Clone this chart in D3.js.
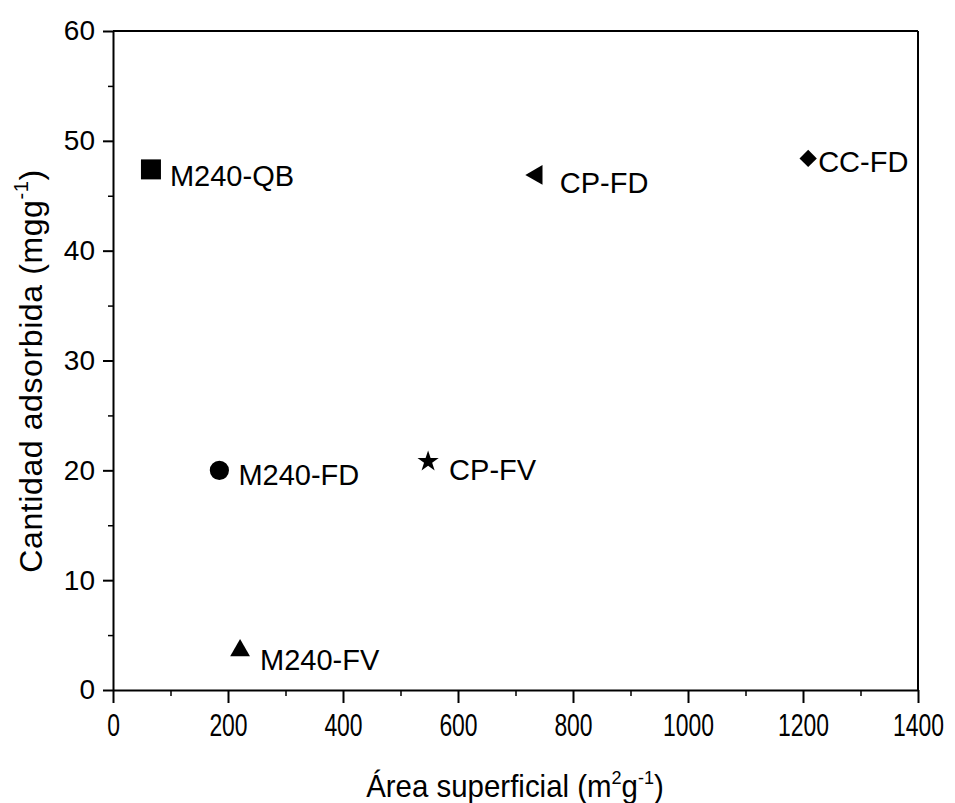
<!DOCTYPE html>
<html>
<head>
<meta charset="utf-8">
<script src="https://cdn.jsdelivr.net/npm/d3@7"></script>
<style>
  body { margin: 0; background: #fff; }
  svg { font-family: Arial, "Liberation Sans", sans-serif; }
</style>
</head>
<body>
<div id="chart"></div>
<script>
// data
const samples  = ["M240-QB", "M240-FD", "M240-FV", "CP-FV", "CP-FD", "CC-FD"];
const area     = [66, 185, 221, 548, 737, 1209];      // m2 g-1
const adsorbed = [47.4, 20.0, 3.6, 20.8, 46.9, 48.4]; // mg g-1
const markers  = ["square", "circle", "triangle", "star", "triangleLeft", "diamond"];

const xTicks = [0, 200, 400, 600, 800, 1000, 1200, 1400];
const yTicks = [0, 10, 20, 30, 40, 50, 60];

// label placement relative to each marker
const labelDx = [19, 19, 20, 21, 23, 10];
const labelDy = [17, 15, 20, 18, 18, 14];

const width = 955, height = 803;
const margin = {top: 31, right: 37, bottom: 113, left: 113};

const svg = d3.select("#chart")
              .append("svg")
              .attr("width", width)
              .attr("height", height);

const x = d3.scaleLinear()
            .domain([0, 1400])
            .range([margin.left, width - margin.right]);

const y = d3.scaleLinear()
            .domain([0, 60])
            .range([height - margin.bottom, margin.top]);

// minor ticks
svg.append("g")
   .attr("transform", `translate(0,${y(0)})`)
   .call(d3.axisBottom(x).tickValues(d3.range(100, 1400, 200)).tickSize(6).tickFormat(""))
   .call(g => g.select(".domain").remove())
   .selectAll("line").attr("stroke-width", 1.5);

svg.append("g")
   .attr("transform", `translate(${x(0)},0)`)
   .call(d3.axisLeft(y).tickValues(d3.range(5, 60, 10)).tickSize(5).tickFormat(""))
   .call(g => g.select(".domain").remove())
   .selectAll("line").attr("stroke-width", 1.5);

// major axes
const xAxis = svg.append("g")
   .attr("transform", `translate(0,${y(0)})`)
   .call(d3.axisBottom(x).tickValues(xTicks).tickFormat(d3.format("d"))
           .tickSize(13).tickSizeOuter(0).tickPadding(11));
xAxis.select(".domain").attr("stroke-width", 2);
xAxis.selectAll("line").attr("stroke-width", 2);
xAxis.selectAll("text")
     .attr("font-size", 31)
     .attr("font-family", "Arial, 'Liberation Sans', sans-serif")
     .attr("transform", "scale(0.74,1)");

const yAxis = svg.append("g")
   .attr("transform", `translate(${x(0)},0)`)
   .call(d3.axisLeft(y).tickValues(yTicks).tickFormat(d3.format("d"))
           .tickSize(10).tickSizeOuter(0).tickPadding(8));
yAxis.select(".domain").attr("stroke-width", 2);
yAxis.selectAll("line").attr("stroke-width", 2);
yAxis.selectAll("text")
     .attr("font-size", 28)
     .attr("font-family", "Arial, 'Liberation Sans', sans-serif");

// frame top / right
svg.append("line")
   .attr("x1", x(0)).attr("x2", x(1400))
   .attr("y1", y(60)).attr("y2", y(60))
   .attr("stroke", "#000").attr("stroke-width", 2);
svg.append("line")
   .attr("x1", x(1400)).attr("x2", x(1400))
   .attr("y1", y(60)).attr("y2", y(0))
   .attr("stroke", "#000").attr("stroke-width", 2);

// markers
const symbolFor = {
    square:       {type: d3.symbolSquare,   size: 400, rotate: 0},
    circle:       {type: d3.symbolCircle,   size: 290, rotate: 0},
    triangle:     {type: d3.symbolTriangle, size: 170, rotate: 0},
    star:         {type: d3.symbolStar,     size: 140, rotate: 0},
    triangleLeft: {type: d3.symbolTriangle, size: 170, rotate: -90},
    diamond:      {type: d3.symbolSquare,   size: 150, rotate: 45}
};

const points = samples.map((name, i) => ({
    name: name, x: area[i], y: adsorbed[i], marker: markers[i], dx: labelDx[i], dy: labelDy[i]
}));

svg.append("g")
   .selectAll("path")
   .data(points)
   .enter()
   .append("path")
   .attr("d", d => d3.symbol().type(symbolFor[d.marker].type).size(symbolFor[d.marker].size)())
   .attr("transform", d => `translate(${x(d.x)},${y(d.y)}) rotate(${symbolFor[d.marker].rotate})`)
   .attr("fill", "#000");

svg.append("g")
   .selectAll("text")
   .data(points)
   .enter()
   .append("text")
   .attr("x", d => x(d.x) + d.dx)
   .attr("y", d => y(d.y) + d.dy)
   .attr("font-size", 29)
   .text(d => d.name);

// axis titles
const xTitle = svg.append("text")
   .attr("transform", "translate(515,797) scale(0.95,1)")
   .attr("text-anchor", "middle")
   .attr("font-size", 31);
xTitle.append("tspan").text("Área superficial (m");
xTitle.append("tspan").attr("font-size", 19).attr("dy", -13).text("2");
xTitle.append("tspan").attr("dy", 13).text("g");
xTitle.append("tspan").attr("font-size", 19).attr("dy", -13).text("-1");
xTitle.append("tspan").attr("dy", 13).text(")");

const yTitle = svg.append("text")
   .attr("transform", "translate(42,371) rotate(-90)")
   .attr("text-anchor", "middle")
   .attr("font-size", 32)
   .attr("letter-spacing", 0.6);
yTitle.append("tspan").text("Cantidad adsorbida (mgg");
yTitle.append("tspan").attr("font-size", 20).attr("dy", -14).text("-1");
yTitle.append("tspan").attr("dy", 14).text(")");
</script>
</body>
</html>
